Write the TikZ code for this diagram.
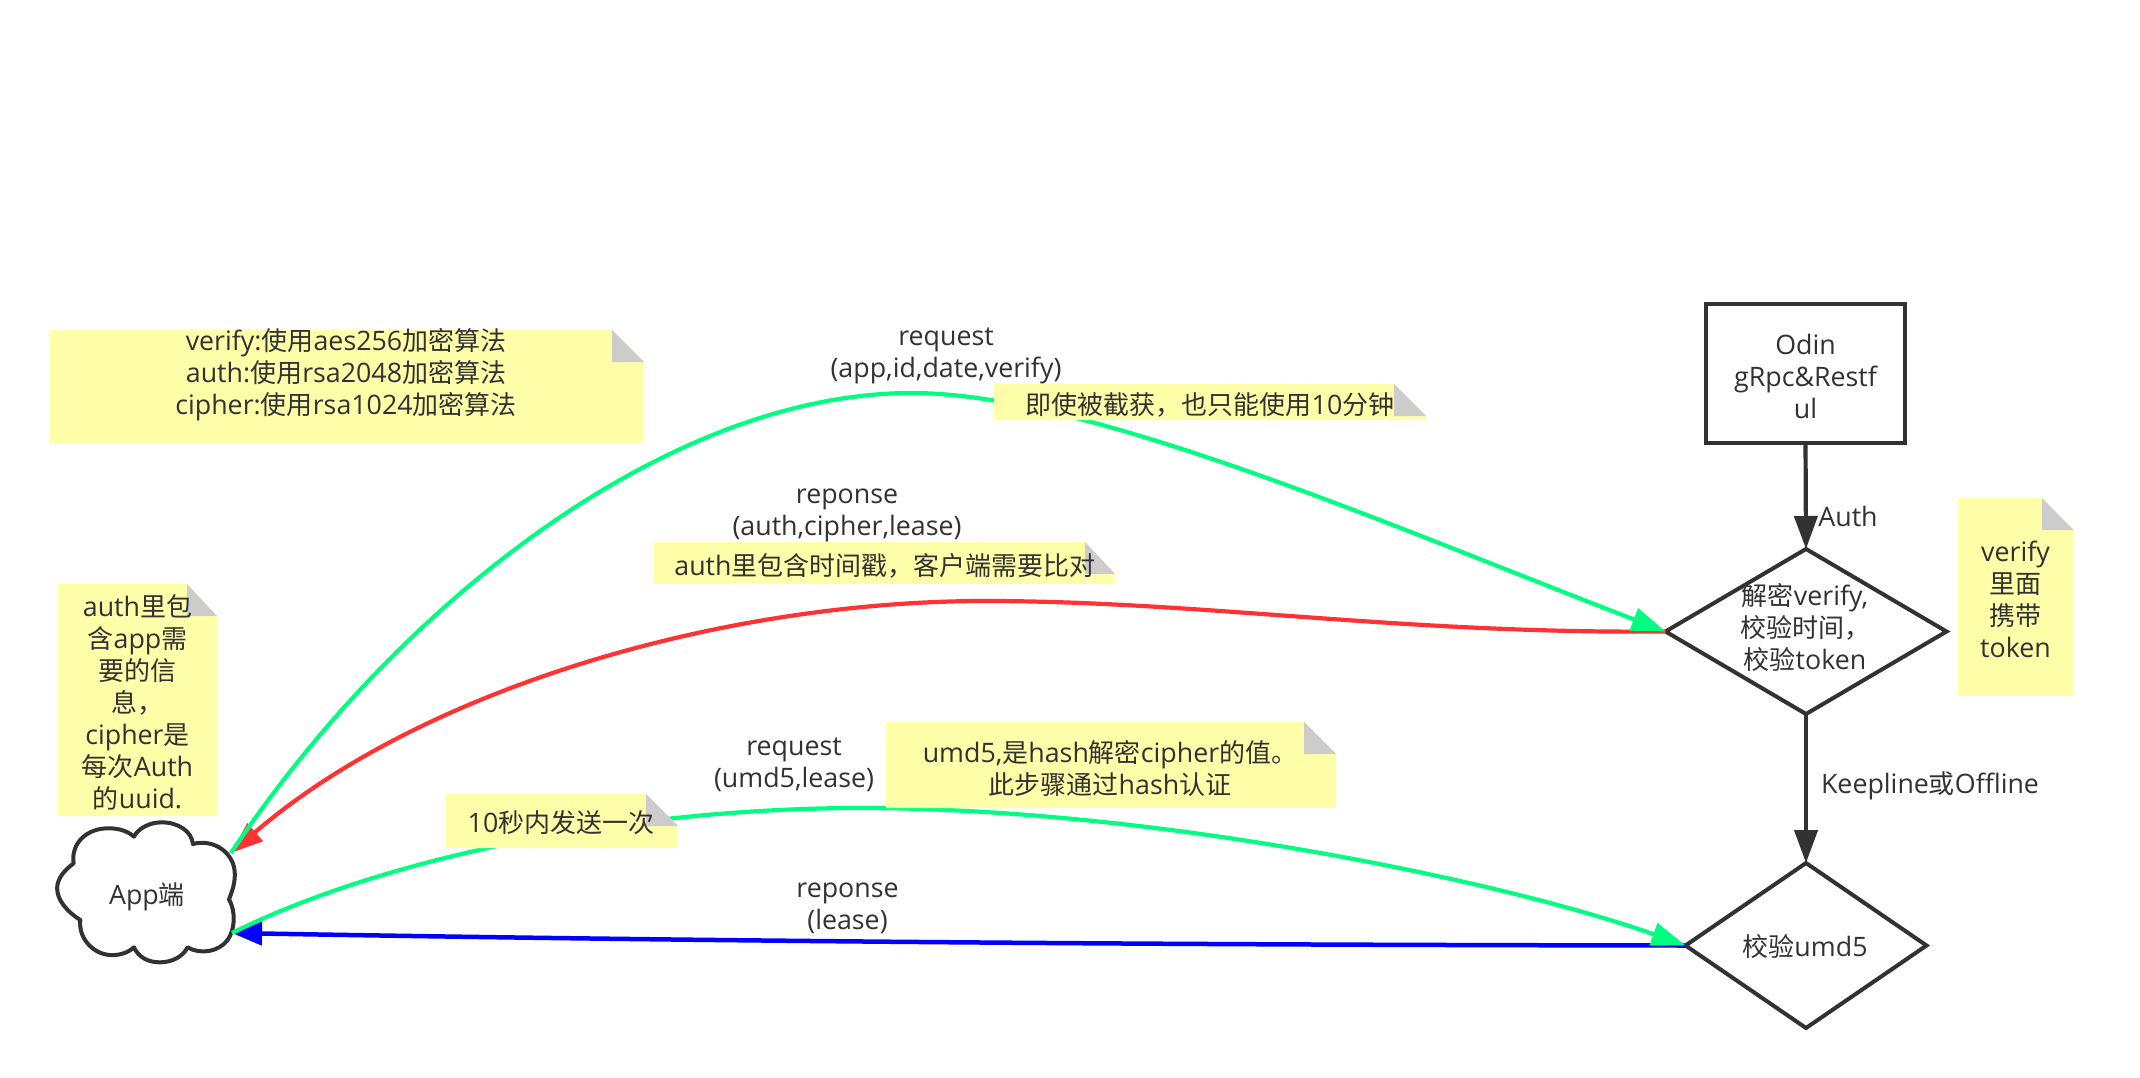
\documentclass[tikz,border=0pt]{standalone}
\usepackage{fontspec}
\setmainfont{Open Sans}[Scale=1.03]
\newfontfamily\cjk{Noto Sans CJK SC}
\newcommand{\zh}[1]{{\cjk #1}}
\usetikzlibrary{arrows.meta,shapes.geometric}
\definecolor{ink}{HTML}{323232}
\definecolor{notey}{HTML}{FFFFAA}
\definecolor{foldg}{HTML}{CCCCCC}
\definecolor{lgreen}{HTML}{00FF80}
\definecolor{lred}{HTML}{FF3333}
\definecolor{lblue}{HTML}{0000FF}
\newcommand{\notebox}[6]{%
  \fill[notey] (#1,#2) -- (#5,#2) -- (#3,#6) -- (#3,#4) -- (#1,#4) -- cycle;
  \fill[foldg] (#5,#2) -- (#3,#6) -- (#5,#6) -- cycle;}
\tikzset{
  txt/.style={text=ink,font=\fontsize{26pt}{32pt}\selectfont,align=center,inner sep=0pt,outer sep=0pt},
  boxframe/.style={draw=ink,line width=4pt,fill=white,minimum width=199pt,minimum height=139pt,inner sep=0pt,outer sep=0pt},
  dia/.style={txt,diamond,draw=ink,line width=4pt,fill=white},
  flow/.style={draw=ink,line width=4.2pt,-{Triangle[length=33pt,width=23pt]}},
  greenline/.style={draw=lgreen,line width=4.2pt,-{Triangle[length=34pt,width=23pt]}},
  redline/.style={draw=lred,line width=4.2pt,-{Triangle[length=32pt,width=23pt]}},
  blueline/.style={draw=lblue,line width=4.5pt,-{Triangle[length=30pt,width=23pt]}},
}
\begin{document}
\begin{tikzpicture}[x=1pt,y=-1pt]
\path[use as bounding box,fill=white] (0,0) rectangle (2140,1078);

% cloud
\begin{scope}[shift={(0,560)},x=0.44643pt,y=-0.33333pt]
\draw[ink,line width=4pt,fill=white,line join=round]
  (165,910) .. controls (158,850) and (195,803) .. (245,805)
  .. controls (268,805) and (288,815) .. (300,830)
  .. controls (310,805) and (335,787) .. (362,787)
  .. controls (400,787) and (430,815) .. (432,852)
  .. controls (480,835) and (527,880) .. (526,945)
  .. controls (526,975) and (518,1000) .. (513,1018)
  .. controls (530,1060) and (525,1110) .. (510,1140)
  .. controls (490,1175) and (450,1185) .. (420,1162)
  .. controls (410,1190) and (385,1207) .. (358,1207)
  .. controls (330,1207) and (310,1190) .. (300,1162)
  .. controls (285,1180) and (265,1187) .. (245,1185)
  .. controls (205,1180) and (175,1130) .. (180,1080)
  .. controls (150,1055) and (128,1020) .. (128,985)
  .. controls (128,955) and (145,930) .. (165,910) -- cycle;
\end{scope}
\node[txt] (app) at (147,897) {App\zh{端}};
\coordinate (cloudA) at (231,853);
\coordinate (cloudB) at (232,933);

% boxes
\node[boxframe] (odin) at (1805.5,373.5) {};
\node[txt] (odint) at (1805.5,376.5) {Odin\\gRpc\&Restf\\ul};
\node[dia,minimum width=281pt,minimum height=165pt] (d1) at (1806,631.5) {};
\node[dia,minimum width=241pt,minimum height=165pt] (d2) at (1806,945.5) {};
\node[txt] (d1t) at (1805,627) {\zh{解密}verify,\\\zh{校验时间，}\\\zh{校验}token};
\node[txt] (d2t) at (1805,947) {\zh{校验}umd5};

% connectors
\draw[flow] (odin.south) -- (d1.north);
\draw[flow] (d1.south) -- (d2.north);
\draw[redline] (d1.west) .. controls (1400,634) and (1200,601) .. (985,601)
  .. controls (720,601) and (420,690) .. (cloudA);
\draw[greenline] (cloudA) .. controls (400,600) and (670,393) .. (912,393)
  .. controls (1090,393) and (1400,530) .. (d1.west);
\draw[blueline] (d2.west) .. controls (1300,945) and (800,943) .. (cloudB);
\draw[greenline] (cloudB) .. controls (400,850) and (650,808) .. (860,808)
  .. controls (1150,808) and (1500,880) .. (d2.west);

% labels
\node[txt] (l1) at (946,355.5) {request\\(app,id,date,verify)};
\node[txt] (l2) at (847,515) {reponse\\(auth,cipher,lease)};
\node[txt] (l3) at (794,764.5) {request\\(umd5,lease)};
\node[txt] (l4) at (847.5,908.5) {reponse\\(lease)};
\node[txt] (l5) at (1848,516) {Auth};
\node[txt] (l6) at (1930,786) {Keepline\zh{或}Offline};

% notes
\notebox{50}{330}{644}{443}{612}{362}
\node[txt] (n1) at (346,375) {verify:\zh{使用}aes256\zh{加密算法}\\auth:\zh{使用}rsa2048\zh{加密算法}\\cipher:\zh{使用}rsa1024\zh{加密算法}};
\notebox{58}{584}{217}{816}{187}{616}
\node[txt] (n2) at (137.5,702.5) {auth\zh{里包}\\\zh{含}app\zh{需}\\\zh{要的信}\\\zh{息，}\\cipher\zh{是}\\\zh{每次}Auth\\\zh{的}uuid.};
\notebox{994}{384}{1426}{420}{1394}{416}
\node[txt] (n3) at (1210,405) {\zh{即使被截获，也只能使用}10\zh{分钟}};
\notebox{654}{542}{1115}{584}{1085}{574}
\node[txt] (n4) at (885,566) {auth\zh{里包含时间戳，客户端需要比对}};
\notebox{446}{794}{678}{848}{646}{826}
\node[txt] (n5) at (561,823) {10\zh{秒内发送一次}};
\notebox{886}{722}{1336}{808}{1304}{754}
\node[txt] (n6) at (1110,768) {umd5,\zh{是}hash\zh{解密}cipher\zh{的值。}\\\zh{此步骤通过}hash\zh{认证}};
\notebox{1958}{498}{2073.5}{696}{2042}{530}
\node[txt] (n7) at (2015.5,599) {verify\\\zh{里面}\\\zh{携带}\\token};
\end{tikzpicture}
\end{document}
